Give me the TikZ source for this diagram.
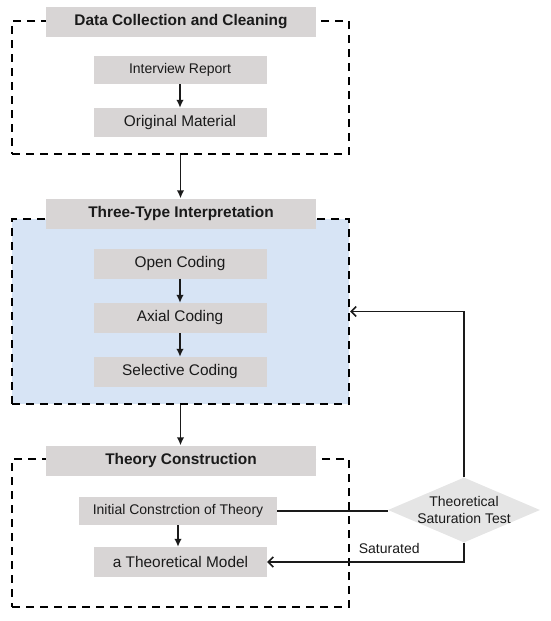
\documentclass[tikz,border=0pt]{standalone}
\usepackage{fontspec}
\setmainfont{Liberation Sans}
\usepackage{tikz}
\usetikzlibrary{arrows.meta,shapes.geometric}
\definecolor{boxgray}{HTML}{D8D5D5}
\definecolor{paleblue}{HTML}{D7E4F5}
\definecolor{diagray}{HTML}{E5E5E5}
\definecolor{ink}{HTML}{1A1A1A}
\tikzset{
  frame/.style={draw=black, line width=2pt, dash pattern=on 8pt off 6pt, inner sep=0pt, minimum width=337pt},
  head/.style={fill=boxgray, minimum width=270pt, minimum height=30pt, inner sep=0pt, text=ink, font=\fontsize{15.4}{18}\selectfont\bfseries},
  box/.style={fill=boxgray, minimum width=173pt, minimum height=29pt, inner sep=0pt, text=ink, font=\fontsize{15.4}{18}\selectfont},
  small/.style={font=\fontsize{14}{17}\selectfont},
  diam/.style={diamond, fill=diagray, minimum width=152pt, minimum height=65pt, inner sep=0pt},
  arr/.style={draw=ink, line width=1.8pt, -{Latex[length=8pt,width=7.5pt]}},
  link/.style={draw=ink, line width=1.6pt},
  fb/.style={draw=ink, line width=1.6pt, -{Straight Barb[length=5pt,width=10pt]}},
  lab/.style={text=ink, font=\fontsize{14}{17}\selectfont, align=center},
}

\begin{document}
\begin{tikzpicture}[x=1pt, y=-1pt]
  \useasboundingbox (0,0) rectangle (550,621);
  % dashed frames
  \node[frame, minimum height=133pt] (fcol) at (180.5,87.5) {};
  \node[frame, fill=paleblue, minimum height=185pt] (fint) at (180.5,311.5) {};
  \node[frame, minimum height=148pt] (fthe) at (180.5,533) {};
  % stage titles
  \node[head] (hcol) at (181,21.5) {Data Collection and Cleaning};
  \node[head] (hint) at (181,213.5) {Three-Type Interpretation};
  \node[head] (hthe) at (181,460.5) {Theory Construction};
  % steps
  \node[box, small, minimum height=28pt] (ir) at (180,70) {Interview Report};
  \node[box] (om) at (180,122.5) {Original Material};
  \node[box, minimum height=30pt] (oc) at (180,263.5) {Open Coding};
  \node[box, minimum height=30pt] (ax) at (180,318) {Axial Coding};
  \node[box, minimum height=30pt] (sc) at (180,372) {Selective Coding};
  \node[box, small, minimum width=198pt, minimum height=28pt] (ic) at (178,511) {Initial Constrction of Theory};
  \node[box, minimum height=30pt] (tm) at (180.5,562) {a Theoretical Model};
  \node[diam, label={[lab]center:Theoretical\\Saturation Test}] (st) at (464,510) {};
  % flow
  \draw[arr] (ir) -- (om);
  \draw[arr] (fcol.south) -- (fcol.south |- hint.north);
  \draw[arr] (oc) -- (ax);
  \draw[arr] (ax) -- (sc);
  \draw[arr] (fint.south) -- (fint.south |- hthe.north);
  \draw[arr] (ic.south) -- (ic.south |- tm.north);
  \draw[link] (ic.east) -- (ic.east -| st.west);
  \draw[fb] (st.north) |- (fint.east);
  \draw[fb] (st.south) |- node[lab, pos=0.69, above=6pt, inner sep=2pt] {Saturated} (tm.east);
\end{tikzpicture}
\end{document}
